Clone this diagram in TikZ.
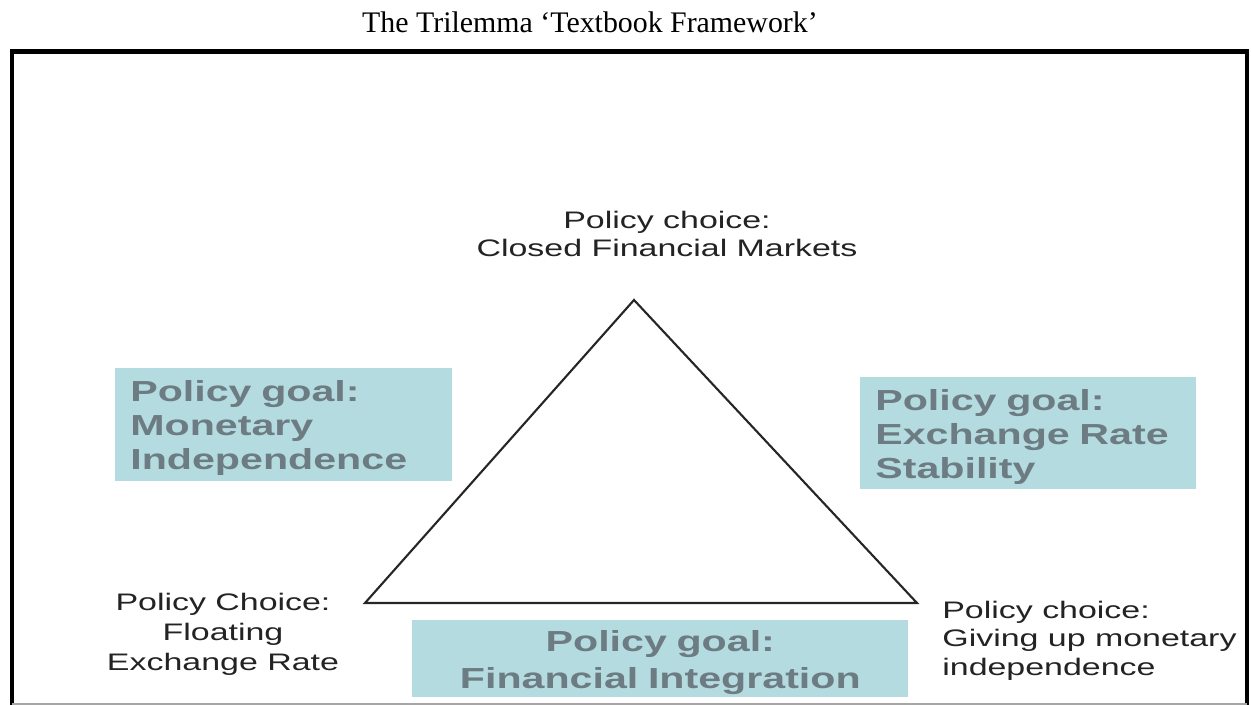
\documentclass[tikz,border=0pt]{standalone}
\usepackage{fontspec}
\setmainfont{Liberation Serif}
\newfontfamily\diagfont[FakeStretch=1.42]{Liberation Sans}
\usepackage{tikz}
\usepackage{xcolor}
\usetikzlibrary{positioning,calc}

\definecolor{goalfill}{RGB}{180,219,224}
\definecolor{goaltext}{RGB}{108,124,130}
\definecolor{choicetext}{RGB}{35,35,35}

\begin{document}
\begin{tikzpicture}[x=0.02cm,y=-0.02cm,
  frame/.style={line width=2.3pt,black},
  side/.style={line width=1.2pt,black!85,line join=miter},
  goal/.style={anchor=north west,fill=goalfill,text=goaltext,inner xsep=0.3cm,inner ysep=0pt,
    font=\diagfont\bfseries\fontsize{16.5}{19.4}\selectfont},
  choice/.style={inner sep=0pt,text=choicetext,
    font=\diagfont\fontsize{13.6}{16.2}\selectfont}]
  \useasboundingbox (0,0) rectangle (1251,705);

  \node[anchor=base,font=\fontsize{17}{20}\selectfont] (title) at (590,33)
    {The Trilemma ‘Textbook Framework’};

  \draw[frame] (12,705) -- (12,51.5) -- (1247,51.5) -- (1247,705);
  \draw[line width=0.6pt,black!35] (12,704) -- (1247,704);

  \coordinate (closed) at (634,300);
  \coordinate (floating) at (365,603);
  \coordinate (pegged) at (917,603);
  \draw[side] (closed) -- (floating) -- (pegged) -- cycle;

  \node[goal,text width=6.14cm,minimum height=2.26cm,align=left] (monetary) at (115,368)
    {\rule{0pt}{0.56cm}Policy goal:\\Monetary\\Independence};
  \node[goal,text width=6.12cm,minimum height=2.24cm,align=left] (stability) at (860,377)
    {\rule{0pt}{0.56cm}Policy goal:\\Exchange Rate\\Stability};
  \node[goal,text width=9.32cm,minimum height=1.54cm,align=center,
    font=\diagfont\bfseries\fontsize{16.5}{21}\selectfont] (integration) at (412,620)
    {\rule{0pt}{0.58cm}Policy goal:\\Financial Integration};

  \node[choice,anchor=base,align=center] (closedlbl) at (667,257)
    {Policy choice:\\Closed Financial Markets};
  \node[choice,anchor=base,align=center,font=\diagfont\fontsize{13.6}{17}\selectfont] (floatlbl) at (223,670)
    {Policy Choice:\\Floating\\Exchange Rate};
  \node[choice,anchor=base west,align=left] (peglbl) at (942,675)
    {Policy choice:\\Giving up monetary\\independence};
\end{tikzpicture}
\end{document}
